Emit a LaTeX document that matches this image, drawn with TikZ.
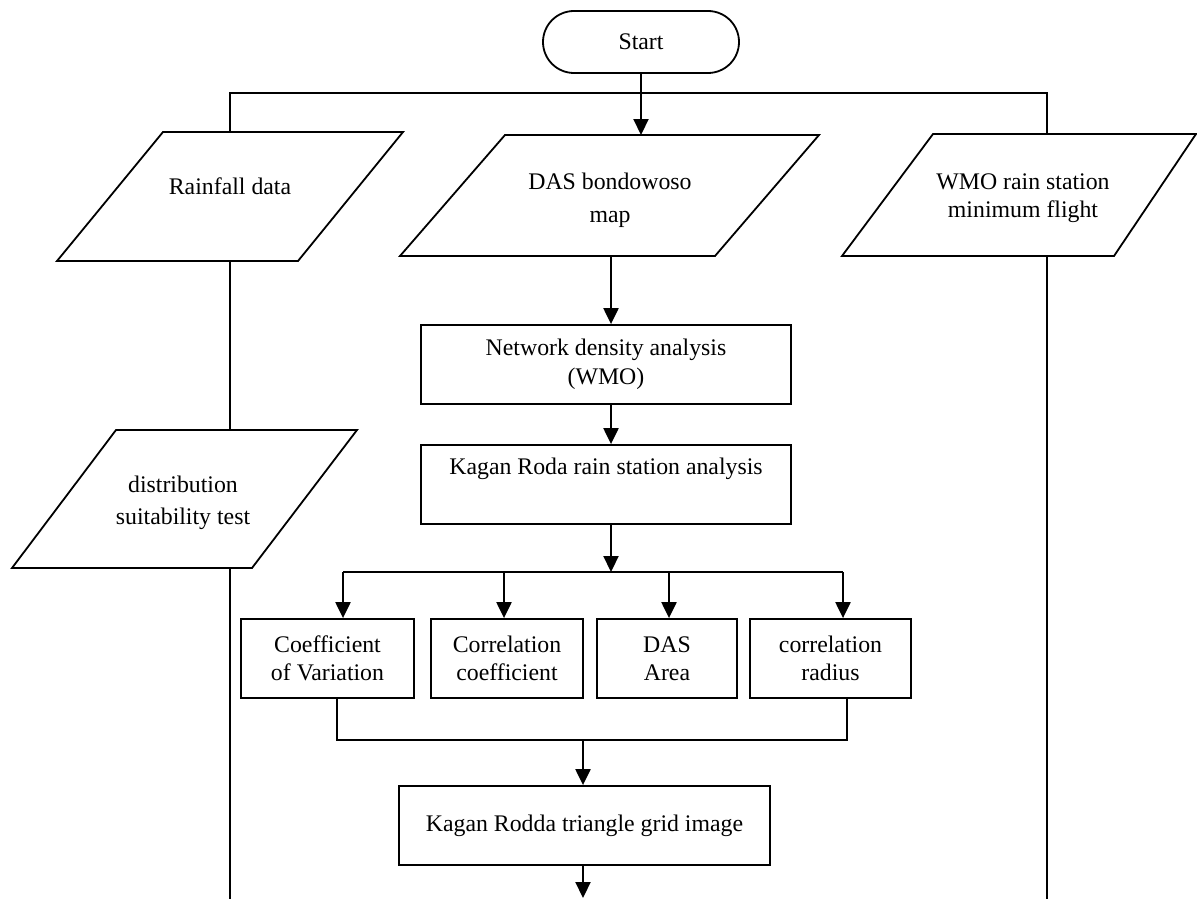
\documentclass[tikz,border=0pt]{standalone}
\usepackage{fontspec}
\setmainfont{Liberation Serif}
\usetikzlibrary{arrows.meta}
\begin{document}
\begin{tikzpicture}[x=1pt,y=-1pt,
  txt/.style={font=\fontsize{23.8}{28.5}\selectfont, align=center, inner sep=0pt},
  box/.style={txt, draw, line width=1.8pt},
  ln/.style={line width=1.7pt},
  arr/.style={line width=2.2pt, -{Triangle[width=15pt,length=16pt]}},
  para/.style={line width=1.8pt, line join=miter}]
\useasboundingbox (0,0) rectangle (1197,899);
% start
\node[box, rounded corners=31pt, minimum width=196pt, minimum height=62pt] (start) at (641,42) {Start};
% parallelograms
\coordinate (rainTL) at (163,132); \coordinate (rainTR) at (403,132);
\coordinate (rainBR) at (298,261); \coordinate (rainBL) at (57,261);
\draw[para] (rainTL) -- (rainTR) -- (rainBR) -- (rainBL) -- cycle;
\node[txt] (rain) at (230,186) {Rainfall data};
\coordinate (dasTL) at (505,135); \coordinate (dasTR) at (819,135);
\coordinate (dasBR) at (715,256); \coordinate (dasBL) at (400,256);
\draw[para] (dasTL) -- (dasTR) -- (dasBR) -- (dasBL) -- cycle;
\node[txt, font=\fontsize{23.8}{33}\selectfont] (das) at (610,200) {DAS bondowoso\\map};
\coordinate (wmoTL) at (933,134); \coordinate (wmoTR) at (1196,134);
\coordinate (wmoBR) at (1114,256); \coordinate (wmoBL) at (842,256);
\draw[para] (wmoTL) -- (wmoTR) -- (wmoBR) -- (wmoBL) -- cycle;
\node[txt] (wmo) at (1023,198) {WMO rain station\\minimum flight};
\coordinate (distTL) at (116,430); \coordinate (distTR) at (357,430);
\coordinate (distBR) at (252,568); \coordinate (distBL) at (12,568);
\draw[para] (distTL) -- (distTR) -- (distBR) -- (distBL) -- cycle;
\node[txt, font=\fontsize{23.8}{32}\selectfont] (dist) at (183,503) {distribution\\suitability test};
% trunks
\coordinate (lIn) at (230,132); \coordinate (lOut) at (230,261);
\coordinate (dIn) at (230,430); \coordinate (dOut) at (230,568);
\coordinate (lEnd) at (230,899);
\coordinate (wIn) at (1047,134); \coordinate (wOut) at (1047,256);
\coordinate (wEnd) at (1047,899);
\draw[ln] (lIn) -- ++(0,-39) -| (wIn);
\draw[ln] (lOut) -- (dIn);
\draw[ln] (dOut) -- (lEnd);
\draw[ln] (wOut) -- (wEnd);
\draw[arr] (start.south) -- (start.south |- dasTL);
% middle column
\coordinate (dOutC) at (611,256);
\node[box, minimum width=370pt, minimum height=79pt] (net) at (606,364.5) {Network density analysis\\(WMO)};
\node[box, minimum width=370pt, minimum height=79pt] (kag) at (606,484.5) {Kagan Roda rain station analysis\\\strut};
\draw[arr] (dOutC) -- (dOutC |- net.north);
\draw[arr] (net.south -| dOutC) -- (kag.north -| dOutC);
\coordinate (br) at (611,572);
\draw[arr] (kag.south -| dOutC) -- (br);
% branch
\node[box, minimum width=173pt, minimum height=79pt] (c1) at (327.5,658.5) {Coefficient\\of Variation};
\node[box, minimum width=152pt, minimum height=79pt] (c2) at (507,658.5) {Correlation\\coefficient};
\node[box, minimum width=140pt, minimum height=79pt] (c3) at (667,658.5) {DAS\\Area};
\node[box, minimum width=161pt, minimum height=79pt] (c4) at (830.5,658.5) {correlation\\radius};
\coordinate (b1) at (343,572); \coordinate (b2) at (504,572);
\coordinate (b3) at (669,572); \coordinate (b4) at (843,572);
\draw[line width=2.2pt] (b1) -- (b4);
\draw[arr] (b1) -- (b1 |- c1.north);
\draw[arr] (b2) -- (b2 |- c2.north);
\draw[arr] (b3) -- (b3 |- c3.north);
\draw[arr] (b4) -- (b4 |- c4.north);
% return
\coordinate (r1) at (337,740); \coordinate (r4) at (847,740); \coordinate (rm) at (583,740);
\draw[ln] (c1.south -| r1) -- (r1) -- (r4) -- (c4.south -| r4);
\node[box, minimum width=371pt, minimum height=79pt] (grid) at (584.5,825.5) {Kagan Rodda triangle grid image};
\draw[arr] (rm) -- (rm |- grid.north);
\coordinate (endA) at (583,898);
\draw[arr] (grid.south -| rm) -- (endA);
\end{tikzpicture}
\end{document}
